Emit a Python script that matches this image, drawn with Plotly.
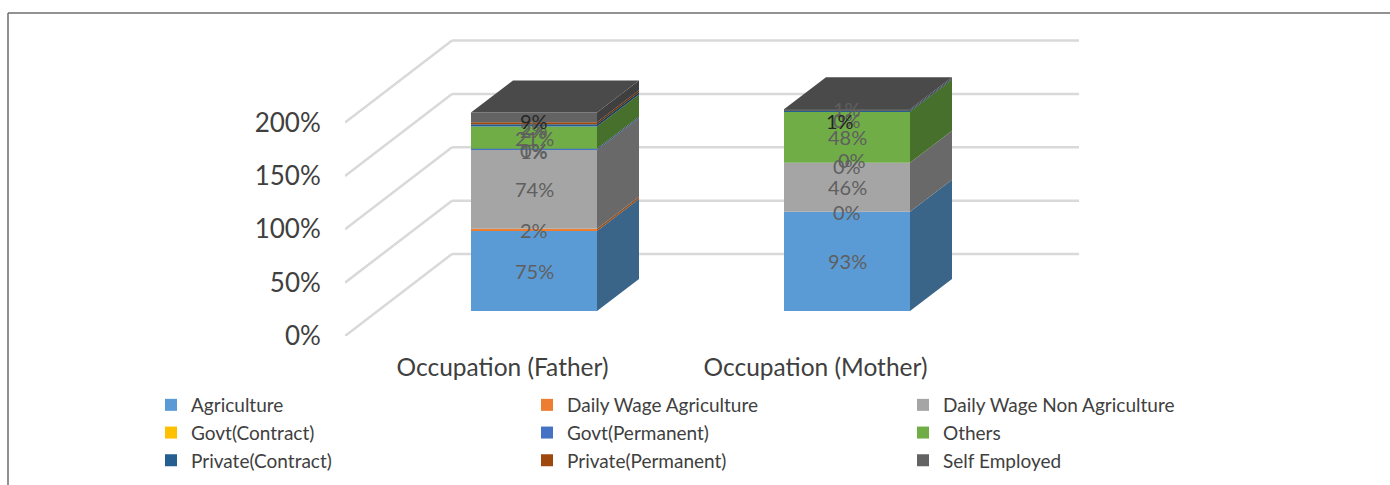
import plotly.graph_objects as go

categories = ["Occupation (Father)", "Occupation (Mother)"]
series = ["Agriculture", "Daily Wage Agriculture", "Daily Wage Non Agriculture",
          "Govt(Contract)", "Govt(Permanent)", "Others",
          "Private(Contract)", "Private(Permanent)", "Self Employed"]
father = [75, 2, 74, 0, 1, 21, 2, 2, 9]
mother = [93, 0, 46, 0, 0, 48, 1, 0, 1]
y_ticks = [0, 50, 100, 150, 200]
colors = ["#5B9BD5", "#ED7D31", "#A5A5A5", "#FFC000", "#4472C4",
          "#70AD47", "#255E91", "#9E480E", "#636363"]
side_colors = ["#3A6488", "#97501F", "#696969", "#A37B00", "#2C497D",
               "#47702D", "#183C5D", "#652E09", "#3F3F3F"]
top_color = "#4A4A4A"
text_color = "#404040"
label_color = "#5F5F5F"
dark_label = "#262626"
FONT = "Lato"

# page geometry (pixels)
W, H = 1390, 485
L, R, T, B = 345, 1079, 38, 336
PX_Y = 1.067
PX_X = 313.0
CAT0_PX = 502.5
WALL_DX, WALL_DY = 107 / PX_X, 82 / PX_Y
BAR_DX, BAR_DY = 31.5 / PX_X, 25 / PX_Y
BAR_W = 126 / PX_X
DEPTH_DX, DEPTH_DY = 42 / PX_X, 32 / PX_Y
xmin = (L - CAT0_PX) / PX_X
xmax = (R - CAT0_PX) / PX_X
ymax = (B - T) / PX_Y

def px(x):
    return x / W

def py(y):
    return 1 - y / H

fig = go.Figure()
table = [father, mother]
# label nudges (xshift, yshift in px) keyed by (category, series)
nudges = {(0, 4): (0, -2), (0, 6): (0, -5), (0, 7): (0, -4), (0, 8): (0, -4),
          (1, 3): (0, -3), (1, 4): (5, 3), (1, 6): (0, 2), (1, 7): (0, -10), (1, 8): (-7, -11)}

cum = [0, 0]
for s, name in enumerate(series):
    vals = [table[c][s] for c in range(2)]
    fig.add_trace(go.Bar(
        name=name, x=[c + BAR_DX for c in range(2)], y=vals,
        base=[cum[c] + BAR_DY for c in range(2)], width=BAR_W,
        marker=dict(color=colors[s], line=dict(width=0)), hoverinfo="skip"))
    for c in range(2):
        if vals[c] > 0:
            xr = c + BAR_DX + BAR_W / 2
            y0 = cum[c] + BAR_DY
            y1 = y0 + vals[c]
            fig.add_trace(go.Scatter(
                x=[xr, xr + DEPTH_DX, xr + DEPTH_DX, xr, xr],
                y=[y0, y0 + DEPTH_DY, y1 + DEPTH_DY, y1, y0],
                mode="lines", fill="toself", fillcolor=side_colors[s],
                line=dict(width=0), showlegend=False, hoverinfo="skip"))
        xs, ys = nudges.get((c, s), (0, 0))
        fig.add_annotation(
            x=c + BAR_DX, y=cum[c] + BAR_DY + vals[c] / 2, text=f"{vals[c]}%",
            showarrow=False, xshift=xs, yshift=ys,
            font=dict(family=FONT, size=20, color=dark_label if s == 8 else label_color))
        cum[c] += vals[c]

# top faces
for c in range(2):
    xl = c + BAR_DX - BAR_W / 2
    xr = c + BAR_DX + BAR_W / 2
    y = cum[c] + BAR_DY
    fig.add_trace(go.Scatter(
        x=[xl, xr, xr + DEPTH_DX, xl + DEPTH_DX, xl],
        y=[y, y, y + DEPTH_DY, y + DEPTH_DY, y],
        mode="lines", fill="toself", fillcolor=top_color,
        line=dict(width=0), showlegend=False, hoverinfo="skip"))

# gridlines on side wall and back wall, below the traces
shapes = []
for v in y_ticks:
    shapes.append(dict(type="line", xref="x", yref="y", layer="below",
                       x0=xmin, y0=v, x1=xmin + WALL_DX, y1=v + WALL_DY,
                       line=dict(color="#D9D9D9", width=2.5)))
    shapes.append(dict(type="line", xref="x", yref="y", layer="below",
                       x0=xmin + WALL_DX, y0=v + WALL_DY, x1=xmax, y1=v + WALL_DY,
                       line=dict(color="#D9D9D9", width=2.5)))
# outer frame: top and left rules
shapes.append(dict(type="line", xref="paper", yref="paper", layer="above",
                   x0=px(8), y0=py(13), x1=px(W), y1=py(13),
                   line=dict(color="#6E6E6E", width=1.5)))
shapes.append(dict(type="line", xref="paper", yref="paper", layer="above",
                   x0=px(8), y0=py(13), x1=px(8), y1=py(H),
                   line=dict(color="#6E6E6E", width=1.5)))

fig.update_layout(
    width=W, height=H, autosize=False, barmode="overlay",
    margin=dict(l=0, r=0, t=0, b=0, pad=0),
    paper_bgcolor="white", plot_bgcolor="white", shapes=shapes,
    font=dict(family=FONT, color=text_color),
    xaxis=dict(domain=[L / W, R / W], range=[xmin, xmax], tickmode="array", tickvals=[0, 1], ticktext=categories,
               automargin=False, showgrid=False, zeroline=False, showline=False, ticks="outside",
               ticklen=10, tickcolor="rgba(0,0,0,0)", tickfont=dict(family=FONT, size=24.5, color=text_color)),
    yaxis=dict(domain=[py(B), py(T)], range=[0, ymax], tickmode="array", tickvals=y_ticks,
               ticktext=[f"{v}%" for v in y_ticks],
               automargin=False, showgrid=False, zeroline=False, showline=False, ticks="outside",
               ticklen=18, tickcolor="rgba(0,0,0,0)", tickfont=dict(family=FONT, size=26, color=text_color)),
    legend=dict(orientation="h", x=px(151), y=py(480), xanchor="left", yanchor="bottom",
                entrywidth=331, entrywidthmode="pixels", traceorder="normal",
                font=dict(family=FONT, size=19, color=text_color), bgcolor="rgba(0,0,0,0)"),
)

fig.write_html("out.html", config=dict(displayModeBar=False),
               post_script="document.body.style.margin='0';")
